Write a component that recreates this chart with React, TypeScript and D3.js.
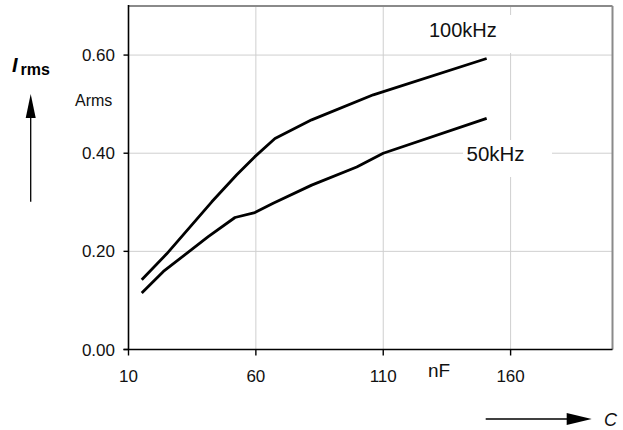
import React from "react";
import * as d3 from "d3";

const xTicks = [10, 60, 110, 160];
const yTicks = [0, 0.2, 0.4, 0.6];
const c100 = [15.2, 25.0, 42.7, 52.5, 59.6, 67.5, 81.9, 106.1, 150.6];
const i100 = [0.142, 0.195, 0.301, 0.356, 0.393, 0.43, 0.468, 0.519, 0.593];
const c50 = [15.2, 23.7, 41.3, 51.8, 59.6, 66.8, 81.9, 99.6, 110, 150.6];
const i50 = [0.115, 0.159, 0.23, 0.269, 0.279, 0.298, 0.335, 0.372, 0.4, 0.471];

const FONT = "'Liberation Sans', Arial, sans-serif";

export default function App() {
  const W = 623, H = 430;
  const x = d3.scaleLinear().domain([10, 200]).range([128.5, 612.5]);
  const y = d3.scaleLinear().domain([0, 0.7]).range([349.5, 6]);
  const line = d3
    .line<[number, number]>()
    .x((d) => x(d[0]))
    .y((d) => y(d[1]));
  const d100 = line(c100.map((c, i) => [c, i100[i]] as [number, number])) || "";
  const d50 = line(c50.map((c, i) => [c, i50[i]] as [number, number])) || "";

  return (
    <svg
      width={W}
      height={H}
      style={{ position: "absolute", left: 0, top: 0, background: "#fff" }}
      fontFamily={FONT}
    >
      {/* gridlines */}
      {xTicks.slice(1).map((t) => (
        <line key={"gx" + t} x1={x(t)} x2={x(t)} y1={y(0.7)} y2={y(0)} stroke="#cfcfcf" strokeWidth={1} />
      ))}
      {yTicks.slice(1).map((t) => (
        <line key={"gy" + t} x1={x(10)} x2={x(200)} y1={y(t)} y2={y(t)} stroke="#cfcfcf" strokeWidth={1} />
      ))}
      {/* border top/right */}
      <line x1={x(10)} x2={x(200)} y1={y(0.7)} y2={y(0.7)} stroke="#8a8a8a" strokeWidth={2} />
      <line x1={x(200)} x2={x(200)} y1={y(0.7)} y2={y(0)} stroke="#8a8a8a" strokeWidth={2} />
      {/* label boxes */}
      <rect x={424} y={15} width={88} height={38} fill="#fff" />
      <rect x={463} y={140} width={89} height={37} fill="#fff" />
      {/* curves */}
      <path d={d100} fill="none" stroke="#000" strokeWidth={2.8} strokeLinejoin="round" />
      <path d={d50} fill="none" stroke="#000" strokeWidth={2.8} strokeLinejoin="round" />
      {/* axes */}
      <line x1={x(10)} x2={x(10)} y1={y(0.7) - 1} y2={y(0)} stroke="#000" strokeWidth={1.6} />
      <line x1={x(10) - 5} x2={x(200)} y1={y(0)} y2={y(0)} stroke="#000" strokeWidth={1.6} />
      {yTicks.map((t) => (
        <g key={"yt" + t}>
          <line x1={x(10) - 5} x2={x(10)} y1={y(t)} y2={y(t)} stroke="#000" strokeWidth={1.4} />
          <text x={115} y={y(t)} dy="0.36em" textAnchor="end" fontSize={17} fill="#111">
            {t.toFixed(2)}
          </text>
        </g>
      ))}
      {xTicks.map((t) => (
        <g key={"xt" + t}>
          <line x1={x(t)} x2={x(t)} y1={y(0)} y2={y(0) + 6} stroke="#000" strokeWidth={1.4} />
          <text x={x(t)} y={382} textAnchor="middle" fontSize={17} fill="#111">
            {t}
          </text>
        </g>
      ))}
      {/* labels */}
      <text x={429} y={36.7} fontSize={20} fill="#111">100kHz</text>
      <text x={466.5} y={161} fontSize={20.5} fill="#111">50kHz</text>
      <text x={75} y={106} fontSize={16} fill="#111">Arms</text>
      <text x={428} y={376.5} fontSize={19} fill="#111">nF</text>
      <text x={12} y={71.5} fontSize={20} fontWeight="bold" fontStyle="italic" fill="#000">I</text>
      <text x={20.5} y={75} fontSize={16} fontWeight="bold" fill="#000">rms</text>
      <text x={604} y={425.5} fontSize={18} fontStyle="italic" fill="#111">C</text>
      {/* arrows */}
      <line x1={30.7} x2={30.7} y1={201.7} y2={115} stroke="#000" strokeWidth={1.3} />
      <polygon points="30.7,94 25.7,118 35.7,118" fill="#000" />
      <line x1={485.7} x2={570} y1={419} y2={419} stroke="#000" strokeWidth={1.3} />
      <polygon points="591.7,419 566.7,413 566.7,425" fill="#000" />
    </svg>
  );
}
